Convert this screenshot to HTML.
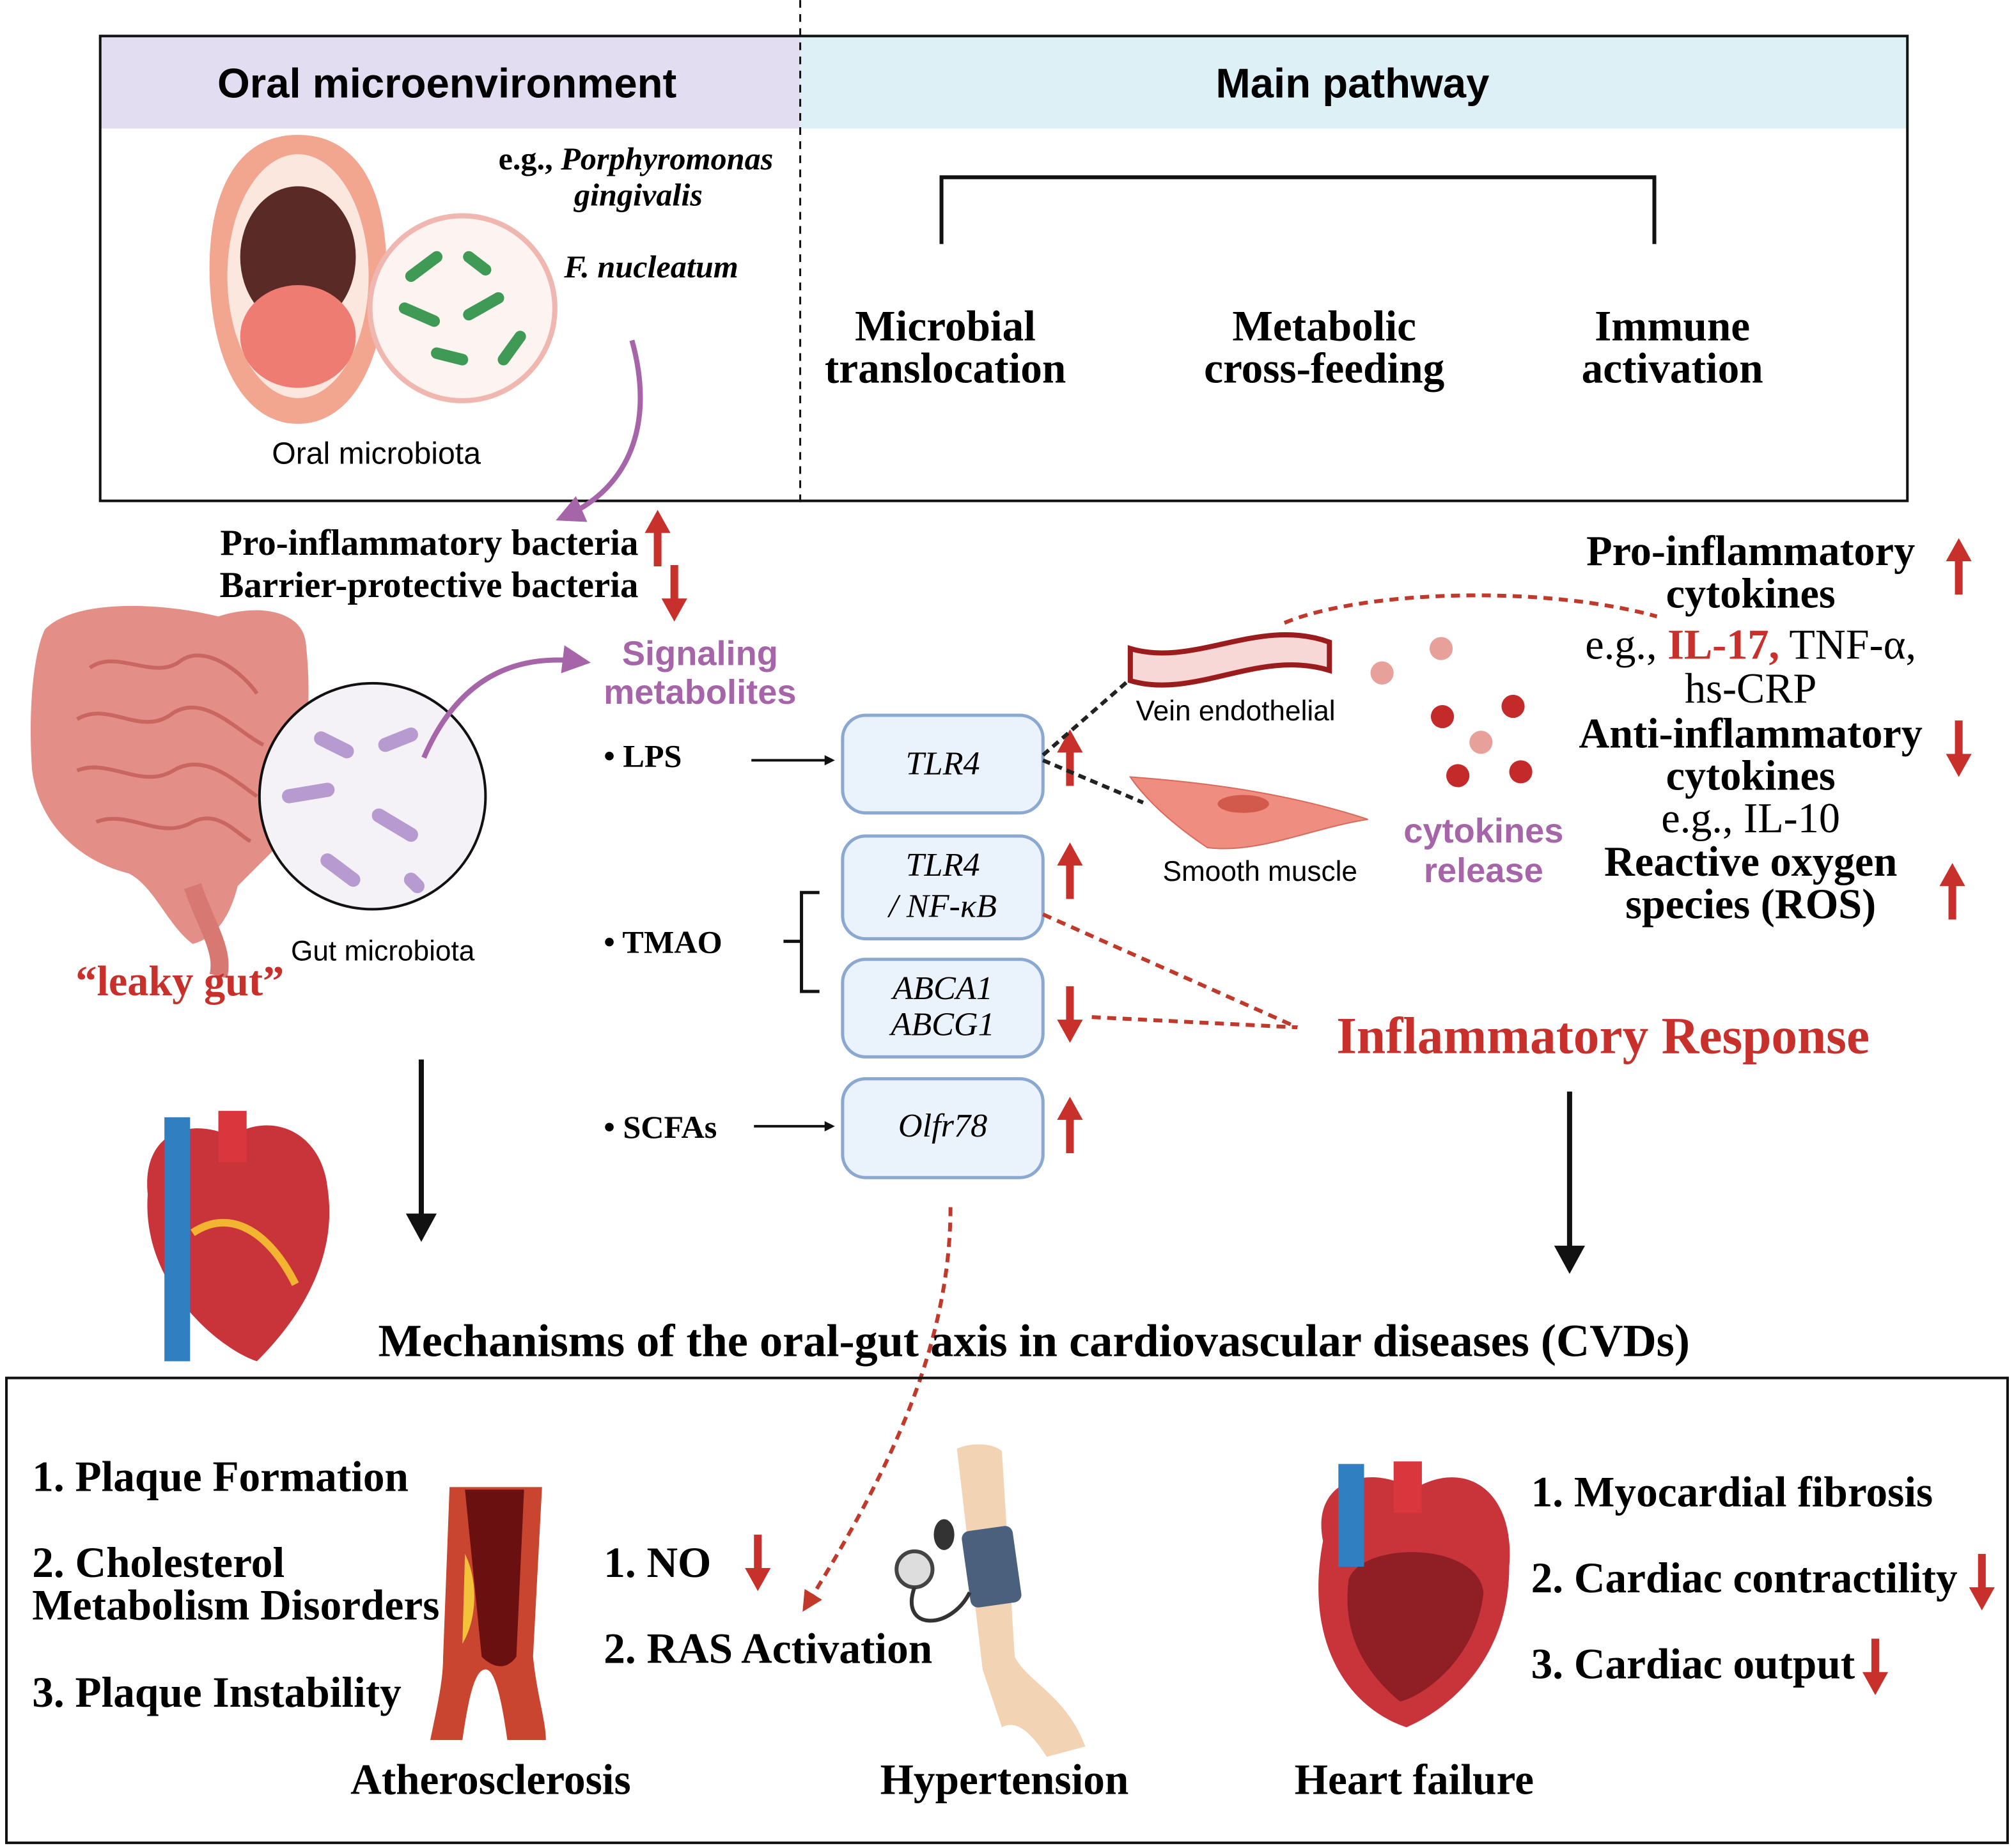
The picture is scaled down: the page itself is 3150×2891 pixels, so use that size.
<!DOCTYPE html>
<html><head><meta charset="utf-8"><style>
html,body{margin:0;padding:0;background:#fff}
svg{display:block}
.s{font-family:"Liberation Sans",sans-serif}
.r{font-family:"Liberation Serif",serif;font-weight:bold}
</style></head><body>
<svg width="3150" height="2891" viewBox="0 0 1568 1439" xmlns="http://www.w3.org/2000/svg">
<defs>
<marker id="ab" markerWidth="8" markerHeight="8" refX="6" refY="4" orient="auto" markerUnits="userSpaceOnUse"><path d="M0,0L8,4L0,8z" fill="#111"/></marker>
<marker id="ap" markerWidth="22" markerHeight="22" refX="14" refY="11" orient="auto" markerUnits="userSpaceOnUse"><path d="M0,0L22,11L0,22z" fill="#a565a8"/></marker>
<marker id="ar" markerWidth="16" markerHeight="16" refX="10" refY="8" orient="auto" markerUnits="userSpaceOnUse"><path d="M0,0L16,8L0,16z" fill="#c0392b"/></marker>
<g id="up"><path d="M0,-22L-10,-4L-3,-4L-3,22L3,22L3,-4L10,-4z" fill="#c8302c"/></g>
<g id="dn"><path d="M0,22L-10,4L-3,4L-3,-22L3,-22L3,4L10,4z" fill="#c8302c"/></g>
</defs>
<rect width="1568" height="1439" fill="#fff"/>
<rect x="78" y="28" width="545" height="72" fill="#e2ddf0"/>
<rect x="623" y="28" width="862" height="72" fill="#dcf0f5"/>
<rect x="78" y="28" width="1407" height="362" fill="none" stroke="#111" stroke-width="2"/>
<line x1="623" y1="0" x2="623" y2="395" stroke="#111" stroke-width="1.5" stroke-dasharray="6,5"/>
<text x="348" y="76" class="s" font-size="32.5" font-weight="bold" text-anchor="middle">Oral microenvironment</text>
<text x="1053" y="76" class="s" font-size="32.5" font-weight="bold" text-anchor="middle">Main pathway</text>
<!-- mouth -->
<path d="M232,105C290,105 305,170 300,230C295,290 270,330 232,330C194,330 169,290 164,230C159,170 174,105 232,105z" fill="#f2a58f"/>
<ellipse cx="232" cy="215" rx="55" ry="95" fill="#fbe7dd"/>
<ellipse cx="232" cy="200" rx="45" ry="55" fill="#5a2a26"/>
<ellipse cx="232" cy="262" rx="45" ry="40" fill="#ef7c72"/>
<circle cx="360" cy="240" r="72" fill="#fdf3f0" stroke="#f0b7b0" stroke-width="4"/>
<g stroke="#3f9a55" stroke-width="9" stroke-linecap="round"><line x1="320" y1="215" x2="340" y2="200"/><line x1="365" y1="200" x2="378" y2="210"/><line x1="315" y1="240" x2="338" y2="250"/><line x1="365" y1="245" x2="388" y2="232"/><line x1="340" y1="275" x2="360" y2="280"/><line x1="392" y1="280" x2="405" y2="262"/></g>
<text x="495" y="132" class="r" font-size="25" text-anchor="middle">e.g., <tspan font-style="italic">Porphyromonas</tspan></text>
<text x="497" y="160" class="r" font-size="25" font-style="italic" text-anchor="middle">gingivalis</text>
<text x="507" y="216" class="r" font-size="25" font-style="italic" text-anchor="middle">F. nucleatum</text>
<text x="293" y="361" class="s" font-size="24" text-anchor="middle">Oral microbiota</text>
<path d="M733,190V138H1288V190" fill="none" stroke="#111" stroke-width="3"/>
<g class="r" font-size="33.5" text-anchor="middle">
<text x="736" y="265">Microbial</text><text x="736" y="298">translocation</text>
<text x="1031" y="265">Metabolic</text><text x="1031" y="298">cross-feeding</text>
<text x="1302" y="265">Immune</text><text x="1302" y="298">activation</text></g>
<path d="M492,265C510,330 490,380 440,402" fill="none" stroke="#a565a8" stroke-width="4" marker-end="url(#ap)"/>
<g class="r" font-size="28.3" text-anchor="end"><text x="497" y="432">Pro-inflammatory bacteria</text><text x="497" y="465">Barrier-protective bacteria</text></g>
<use href="#up" x="512" y="419"/><use href="#dn" x="525" y="462"/>
<!-- intestine -->
<path d="M35,490C60,465 130,470 170,480C200,470 235,475 238,500C245,560 235,620 215,660L185,690C180,710 170,730 150,735C130,720 120,690 100,680C60,670 30,640 25,600C22,560 25,510 35,490z" fill="#e38f88"/>
<g fill="none" stroke="#c9665f" stroke-width="3"><path d="M70,520C90,505 120,530 140,515C160,500 190,525 200,540"/><path d="M60,560C85,545 110,575 135,555C160,540 185,570 205,580"/><path d="M60,600C85,590 110,615 135,600C160,585 185,610 200,620"/><path d="M75,640C100,630 125,655 150,640C170,630 185,650 195,655"/></g>
<path d="M150,690C160,720 175,740 170,760" stroke="#d87873" stroke-width="14" fill="none"/>
<circle cx="290" cy="620" r="88" fill="#f4f2f6" stroke="#111" stroke-width="2"/>
<g stroke="#b69ad0" stroke-width="11" stroke-linecap="round"><line x1="250" y1="575" x2="270" y2="585"/><line x1="300" y1="580" x2="320" y2="572"/><line x1="225" y1="620" x2="255" y2="615"/><line x1="295" y1="635" x2="320" y2="650"/><line x1="255" y1="670" x2="275" y2="685"/><line x1="320" y1="685" x2="325" y2="690"/></g>
<text x="140" y="775" class="r" font-size="33" fill="#c8302c" text-anchor="middle">“leaky gut”</text>
<text x="298" y="748" class="s" font-size="22" text-anchor="middle">Gut microbiota</text>
<path d="M330,590C360,520 410,510 452,515" fill="none" stroke="#a565a8" stroke-width="4" marker-end="url(#ap)"/>
<g class="s" font-size="27" font-weight="bold" fill="#a565a8" text-anchor="middle"><text x="545" y="518">Signaling</text><text x="545" y="548">metabolites</text>
<text x="1155" y="656">cytokines</text><text x="1155" y="687">release</text></g>
<g class="r" font-size="25"><text x="470" y="597">•  LPS</text><text x="470" y="742">•  TMAO</text><text x="470" y="886">•  SCFAs</text></g>
<line x1="585" y1="592" x2="648" y2="592" stroke="#111" stroke-width="2" marker-end="url(#ab)"/>
<line x1="587" y1="877" x2="648" y2="877" stroke="#111" stroke-width="2" marker-end="url(#ab)"/>
<path d="M638,695H624V772H638M624,733H610" fill="none" stroke="#111" stroke-width="2.5"/>
<g fill="#eaf2fb" stroke="#8aa8d0" stroke-width="2.5">
<rect x="656" y="557" width="156" height="76" rx="18"/><rect x="656" y="651" width="156" height="80" rx="18"/>
<rect x="656" y="747" width="156" height="76" rx="18"/><rect x="656" y="840" width="156" height="77" rx="18"/></g>
<g class="r" font-size="26" font-style="italic" text-anchor="middle" style="font-weight:normal">
<text x="734" y="603">TLR4</text><text x="734" y="682">TLR4</text><text x="734" y="714">/ NF-κB</text>
<text x="734" y="778">ABCA1</text><text x="734" y="806">ABCG1</text><text x="734" y="885">Olfr78</text></g>
<use href="#up" x="833" y="590"/><use href="#up" x="833" y="678"/><use href="#dn" x="833" y="790"/><use href="#up" x="833" y="876"/>
<g stroke="#222" stroke-width="3" stroke-dasharray="6,4"><line x1="812" y1="588" x2="890" y2="520"/><line x1="812" y1="592" x2="890" y2="625"/></g>
<path d="M880,505C930,520 980,480 1035,500L1035,522C980,505 930,545 880,530z" fill="#f7d8d6" stroke="#9b1c1c" stroke-width="4"/>
<text x="962" y="561" class="s" font-size="22" text-anchor="middle">Vein endothelial</text>
<path d="M880,605C950,610 1010,620 1065,638C1020,645 980,665 940,660C910,640 890,620 880,605z" fill="#ef8e80" stroke="#d86a5c"/>
<ellipse cx="968" cy="626" rx="20" ry="7" fill="#d25a4d"/>
<text x="981" y="686" class="s" font-size="22" text-anchor="middle">Smooth muscle</text>
<g fill="#e8a09b"><circle cx="1076" cy="524" r="9"/><circle cx="1122" cy="505" r="9"/><circle cx="1153" cy="578" r="9"/></g>
<g fill="#c52a2a"><circle cx="1123" cy="558" r="9"/><circle cx="1178" cy="550" r="9"/><circle cx="1135" cy="604" r="9"/><circle cx="1184" cy="601" r="9"/></g>
<path d="M1000,485C1060,460 1200,455 1290,480" fill="none" stroke="#c0392b" stroke-width="3" stroke-dasharray="7,5"/>
<g class="r" font-size="33" text-anchor="middle">
<text x="1363" y="440">Pro-inflammatory</text><text x="1363" y="473">cytokines</text>
<text x="1363" y="513" style="font-weight:normal">e.g., <tspan fill="#c8302c" style="font-weight:bold">IL-17,</tspan> TNF-α,</text>
<text x="1363" y="547" style="font-weight:normal">hs-CRP</text>
<text x="1363" y="582">Anti-inflammatory</text><text x="1363" y="615">cytokines</text>
<text x="1363" y="648" style="font-weight:normal">e.g., IL-10</text>
<text x="1363" y="682">Reactive oxygen</text><text x="1363" y="715">species (ROS)</text></g>
<use href="#up" x="1525" y="441"/><use href="#dn" x="1525" y="583"/><use href="#up" x="1520" y="694"/>
<text x="1248" y="820" class="r" font-size="40.5" fill="#c8302c" text-anchor="middle">Inflammatory Response</text>
<g stroke="#c0392b" stroke-width="3" stroke-dasharray="7,5" fill="none"><line x1="812" y1="712" x2="1010" y2="800"/><line x1="850" y1="792" x2="1010" y2="800"/>
<path d="M740,940C740,1050 690,1150 628,1250" marker-end="url(#ar)"/></g>
<g stroke="#111" stroke-width="4"><line x1="328" y1="825" x2="328" y2="950"/><line x1="1222" y1="850" x2="1222" y2="975"/></g>
<path d="M316,945H340L328,967z M1210,970H1234L1222,992z" fill="#111"/>
<path d="M115,930C110,880 150,870 180,885C210,865 250,880 255,925C265,990 220,1040 200,1060C170,1050 110,1000 115,930z" fill="#c8343a"/>
<rect x="128" y="870" width="20" height="190" fill="#2f7fc1"/><rect x="170" y="865" width="22" height="40" fill="#d9363e"/>
<path d="M150,960C180,940 210,960 230,1000" stroke="#f3b531" stroke-width="6" fill="none"/>
<text x="805" y="1056" class="r" font-size="36" text-anchor="middle">Mechanisms of the oral-gut axis in cardiovascular diseases (CVDs)</text>
<rect x="5" y="1073" width="1558" height="362" fill="none" stroke="#111" stroke-width="2"/>
<g class="r" font-size="33.5">
<text x="25" y="1161">1. Plaque Formation</text><text x="25" y="1228">2. Cholesterol</text><text x="25" y="1261">Metabolism Disorders</text><text x="25" y="1329">3. Plaque Instability</text>
<text x="470" y="1228">1. NO</text><text x="470" y="1295">2. RAS Activation</text>
<text x="1192" y="1173">1. Myocardial fibrosis</text><text x="1192" y="1240">2. Cardiac contractility</text><text x="1192" y="1307">3. Cardiac output</text></g>
<g class="r" font-size="33.5" text-anchor="middle"><text x="382" y="1397">Atherosclerosis</text><text x="782" y="1397">Hypertension</text><text x="1101" y="1397">Heart failure</text></g>
<use href="#dn" x="590" y="1217"/><use href="#dn" x="1543" y="1232"/><use href="#dn" x="1460" y="1298"/>
<path d="M350,1158H422L415,1290C418,1320 425,1340 425,1355H395C390,1320 385,1300 378,1300C370,1300 365,1320 360,1355H335C340,1330 345,1310 345,1290z" fill="#c9452f"/>
<path d="M362,1160H408L402,1290C395,1300 385,1300 375,1290z" fill="#6a1010"/>
<path d="M362,1210C372,1230 372,1260 360,1280z" fill="#f3c23a"/>
<path d="M745,1128C760,1122 775,1125 780,1130L790,1290C800,1310 830,1320 845,1360L815,1368C800,1345 790,1340 780,1345L765,1300z" fill="#f2d3b4"/>
<rect x="752" y="1190" width="40" height="60" rx="6" fill="#4b607d" transform="rotate(-8 772 1220)"/>
<circle cx="712" cy="1222" r="14" fill="#ddd" stroke="#444" stroke-width="3"/>
<ellipse cx="735" cy="1195" rx="8" ry="12" fill="#333"/>
<path d="M712,1236C700,1270 740,1270 755,1240" stroke="#333" stroke-width="3" fill="none"/>
<path d="M1030,1200C1020,1150 1070,1140 1100,1160C1140,1135 1180,1160 1175,1220C1175,1290 1130,1330 1095,1345C1050,1330 1015,1280 1030,1200z" fill="#c8343a"/>
<path d="M1050,1230C1060,1200 1150,1200 1155,1240C1150,1290 1110,1320 1090,1325C1060,1300 1045,1270 1050,1230z" fill="#8f1f24"/>
<rect x="1042" y="1140" width="20" height="80" fill="#2f7fc1"/><rect x="1085" y="1138" width="22" height="40" fill="#d9363e"/>
</svg>
</body></html>
